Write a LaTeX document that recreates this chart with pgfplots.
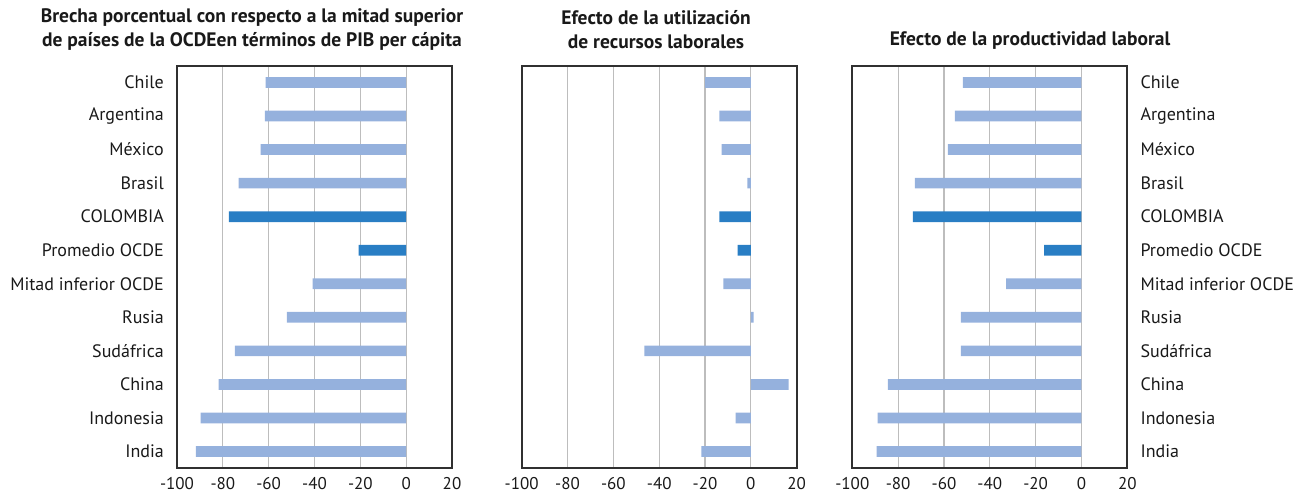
\documentclass[border=0pt]{standalone}
\usepackage{fontspec}
\setmainfont{PT Sans}
\usepackage{pgfplots}
\pgfplotsset{compat=1.18}

\definecolor{lightbar}{HTML}{95B1DD}
\definecolor{darkbar}{HTML}{297EC4}
\definecolor{gridgray}{HTML}{BDBDBD}
\definecolor{framegray}{HTML}{303030}

\pgfplotsset{
  panel/.style={
    scale only axis, width=275pt, height=402.6pt,
    xbar, bar width=10.7pt, bar shift=0pt,
    xmin=-100, xmax=20, ymin=-0.5, ymax=11.5, y dir=reverse,
    xtick={-100,-80,...,20},
    xticklabels={-100,-80,-60,-40,-20,0,20},
    ytick={0,...,11},
    major tick length=0pt,
    xmajorgrids, major grid style={gridgray, line width=1.2pt},
    axis line style={framegray, line width=1.8pt},
    xticklabel style={font=\fontsize{17}{20}\selectfont, text=black!90,
      inner ysep=0pt, yshift=-9pt},
    yticklabel style={font=\fontsize{18}{21}\selectfont, text=black!90,
      inner xsep=13pt},
  },
  cats/.style={
    yticklabels={Chile, Argentina, México, Brasil, COLOMBIA, Promedio OCDE,
      Mitad inferior OCDE, Rusia, Sudáfrica, China, Indonesia, India},
  },
}

\begin{document}
\begin{tikzpicture}
\path[use as bounding box] (0,0) rectangle (1296pt,493pt);

% categories: 0 Chile ... 11 India; 4 COLOMBIA and 5 Promedio OCDE in dark
\begin{axis}[panel, cats, at={(177pt,24.7pt)}, anchor=south west]
  \addplot[fill=lightbar, draw=none] coordinates {
    (-61.3,0) (-61.7,1) (-63.5,2) (-73.1,3) (-40.8,6)
    (-52.1,7) (-74.8,8) (-81.8,9) (-89.7,10) (-91.8,11)
  };
  \addplot[fill=darkbar, draw=none] coordinates {(-77.4,4) (-20.7,5)};
\end{axis}

\begin{axis}[panel, yticklabels={}, at={(521.7pt,24.7pt)}, anchor=south west]
  \addplot[fill=lightbar, draw=none] coordinates {
    (-20.0,0) (-13.7,1) (-12.8,2) (-1.5,3) (-12.0,6)
    (1.2,7) (-46.5,8) (16.5,9) (-6.7,10) (-21.6,11)
  };
  \addplot[fill=darkbar, draw=none] coordinates {(-13.7,4) (-5.8,5)};
\end{axis}

\begin{axis}[panel, cats, yticklabel pos=right, at={(852.3pt,24.7pt)}, anchor=south west]
  \addplot[fill=lightbar, draw=none] coordinates {
    (-51.7,0) (-55.2,1) (-58.3,2) (-72.7,3) (-32.9,6)
    (-52.6,7) (-52.6,8) (-84.5,9) (-88.9,10) (-89.4,11)
  };
  \addplot[fill=darkbar, draw=none] coordinates {(-73.6,4) (-16.3,5)};
\end{axis}

\begin{scope}[every node/.style={align=center, text=black!90,
    font=\fontsize{19.5}{24}\selectfont\bfseries}]
  \node at (252pt,463pt) {Brecha porcentual con respecto a la mitad superior\\
    de países de la OCDEen términos de PIB per cápita};
  \node at (656pt,463pt) {Efecto de la utilización\\de recursos laborales};
  \node at (1030pt,452pt) {Efecto de la productividad laboral};
\end{scope}
\end{tikzpicture}
\end{document}
